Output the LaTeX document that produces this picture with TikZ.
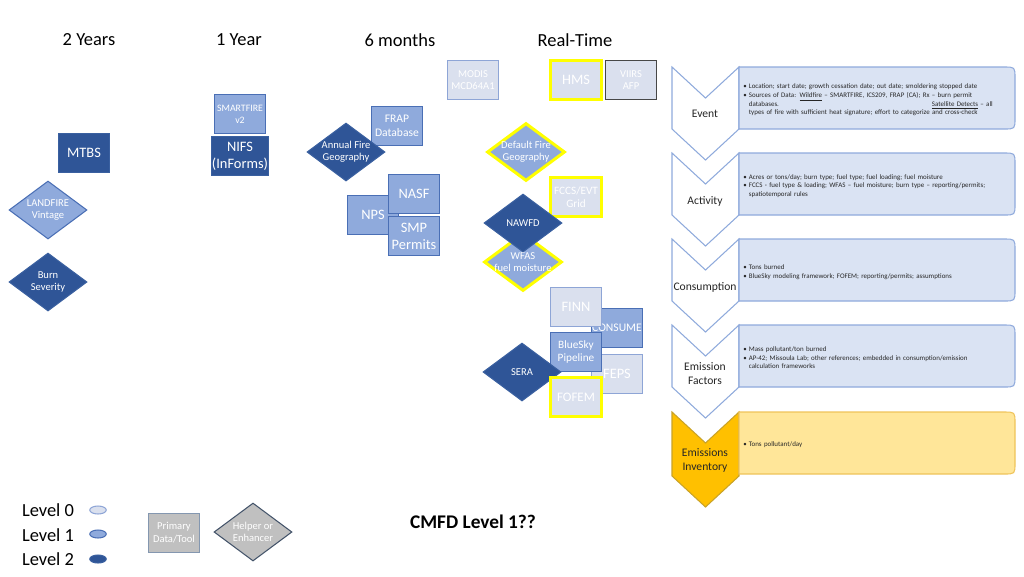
\documentclass[tikz,border=0pt]{standalone}
\usepackage{fontspec}
\setmainfont{Carlito}
\usepackage{xcolor}
\usepackage{tikz}
\usetikzlibrary{positioning, shapes.geometric}

\definecolor{lvzero}{HTML}{DAE0EE}
\definecolor{lvzeroline}{HTML}{8EA5D6}
\definecolor{lvone}{HTML}{8FAADC}
\definecolor{lvoneline}{HTML}{4A6FB5}
\definecolor{lvtwo}{HTML}{2F5597}
\definecolor{lvtwoline}{HTML}{3A60A0}
\definecolor{hilite}{HTML}{FFFF00}
\definecolor{descfill}{HTML}{DAE3F3}
\definecolor{descline}{HTML}{8FAADC}
\definecolor{invfill}{HTML}{FFE699}
\definecolor{invline}{HTML}{EFC35A}
\definecolor{chevgold}{HTML}{FFC000}
\definecolor{chevgoldline}{HTML}{C9A227}
\definecolor{greyfill}{HTML}{C0C0C0}
\definecolor{greyline}{HTML}{8497B0}
\definecolor{greydia}{HTML}{44546A}
\definecolor{darktext}{HTML}{262626}

\newcommand{\bul}[1]{\par\noindent\makebox[0.8em][l]{\textbullet}%
  \parbox[t]{\dimexpr\hsize-0.8em\relax}{#1}}

\begin{document}
\begin{tikzpicture}[
    x=0.02cm, y=-0.02cm,
    box/.style={draw, line width=0.6pt, minimum width=1.02cm, minimum height=0.78cm,
      inner sep=0.5pt, align=center, text=white, font=\fontsize{6}{7.2}\selectfont},
    big/.style={font=\fontsize{8.2}{9.8}\selectfont},
    dia/.style={diamond, draw, line width=0.6pt, minimum width=1.56cm, minimum height=1.16cm, inner sep=0pt},
    dlab/.style={label={[text=white, align=center, font=\fontsize{6}{7}\selectfont]center:{#1}}},
    lzero/.style={fill=lvzero, draw=lvzeroline},
    lone/.style={fill=lvone, draw=lvoneline},
    ltwo/.style={fill=lvtwo, draw=lvtwoline},
    hl/.style={draw=hilite, line width=1.7pt},
    hdr/.style={font=\fontsize{10.5}{12.6}\selectfont, text=black},
    chev/.style={draw=descline, fill=white, line width=0.6pt},
    chevtxt/.style={align=center, text=darktext, font=\fontsize{6.6}{8}\selectfont},
    descbox/.style={draw=descline, fill=descfill, line width=0.6pt},
    desc/.style={anchor=west, text width=5.1cm, inner sep=0pt, text=darktext,
      font=\fontsize{3.95}{4.9}\selectfont},
    legdot/.style={ellipse, draw, line width=0.6pt, minimum width=0.33cm, minimum height=0.16cm, inner sep=0pt}
  ]
  \useasboundingbox (0,0) rectangle (1024,576);

  % time columns
  \node[hdr] (yrtwo) at (89,40) {2 Years};
  \node[hdr] (yrone) at (239,40) {1 Year};
  \node[hdr] (mosix) at (400,40) {6 months};
  \node[hdr] (rtime) at (575,40) {Real-Time};

  % 2 years
  \node[box, ltwo, big] (mtbs) at (84,153) {MTBS};
  \node[dia, lone, dlab={LANDFIRE\\Vintage}] (landfire) at (48,210) {};
  \node[dia, ltwo, dlab={Burn\\Severity}] (burnsev) at (48,282) {};

  % 1 year
  \node[box, lone, font=\fontsize{5.6}{7}\selectfont] (smartfire) at (240,114) {SMARTFIRE\\v2};
  \node[box, ltwo, big] (nifs) at (240,156) {NIFS\\(InForms)};

  % 6 months
  \node[box, lone, font=\fontsize{6.6}{8}\selectfont] (frap) at (397,126) {FRAP\\Database};
  \node[dia, ltwo, dlab={Annual Fire\\Geography}] (annualfg) at (346,152) {};
  \node[box, lone, big] (nps) at (373,215) {NPS};
  \node[box, lone, big] (nasf) at (414,194) {NASF};
  \node[box, lone, big] (smp) at (414,236) {SMP\\Permits};

  % real-time
  \node[box, lzero] (modis) at (473,80) {MODIS\\MCD64A1};
  \node[box, lzero, hl, big] (hms) at (576,80) {HMS};
  \node[box, lzero, draw=darktext!85, line width=1.1pt] (viirs) at (631,80) {VIIRS\\AFP};
  \node[dia, lone, hl, dlab={Default Fire\\Geography}] (defaultfg) at (526,152) {};
  \node[box, lzero, hl, font=\fontsize{6.4}{7.8}\selectfont] (fccs) at (576,197) {FCCS/EVT\\Grid};
  \node[dia, lone, hl, dlab={WFAS\\fuel moisture}] (wfas) at (523,262) {};
  \node[dia, ltwo, dlab={NAWFD}] (nawfd) at (523,223) {};
  \node[box, lone, font=\fontsize{6.6}{8}\selectfont] (consume) at (617,328) {CONSUME};
  \node[box, lzero, big] (finn) at (576,307) {FINN};
  \node[box, lzero, big] (feps) at (617,374) {FEPS};
  \node[box, lone, font=\fontsize{6.4}{7.8}\selectfont] (bluesky) at (576,352) {BlueSky\\Pipeline};
  \node[dia, ltwo, dlab={SERA}] (sera) at (522,372) {};
  \node[box, lzero, hl, font=\fontsize{7.4}{9}\selectfont] (fofem) at (576,397) {FOFEM};

  % process chevrons
  \draw[chev] (672,67) -- ++(33.5,31) -- ++(33.5,-31) -- ++(0,62) -- ++(-33.5,31) -- ++(-33.5,-31) -- cycle;
  \draw[chev] (672,153) -- ++(33.5,31) -- ++(33.5,-31) -- ++(0,62) -- ++(-33.5,31) -- ++(-33.5,-31) -- cycle;
  \draw[chev] (672,239) -- ++(33.5,31) -- ++(33.5,-31) -- ++(0,62) -- ++(-33.5,31) -- ++(-33.5,-31) -- cycle;
  \draw[chev] (672,325) -- ++(33.5,31) -- ++(33.5,-31) -- ++(0,62) -- ++(-33.5,31) -- ++(-33.5,-31) -- cycle;
  \draw[chev, fill=chevgold, draw=chevgoldline] (672,412) -- ++(33.5,31) -- ++(33.5,-31) -- ++(0,64) -- ++(-33.5,31) -- ++(-33.5,-31) -- cycle;

  \node[chevtxt] (event) at (705,114) {Event};
  \node[chevtxt] (activity) at (705,201) {Activity};
  \node[chevtxt] (consumption) at (705,287) {Consumption};
  \node[chevtxt] (emfactors) at (705,374) {Emission\\Factors};
  \node[chevtxt] (eminv) at (705,460) {Emissions\\Inventory};

  % descriptions
  \draw[descbox] (739,67) -- (1004,67) .. controls (1015,67) .. (1015,78) -- (1015,118) .. controls (1015,129) .. (1004,129) -- (739,129) -- cycle;
  \draw[descbox] (739,153) -- (1004,153) .. controls (1015,153) .. (1015,164) -- (1015,204) .. controls (1015,215) .. (1004,215) -- (739,215) -- cycle;
  \draw[descbox] (739,239) -- (1004,239) .. controls (1015,239) .. (1015,250) -- (1015,290) .. controls (1015,301) .. (1004,301) -- (739,301) -- cycle;
  \draw[descbox] (739,325) -- (1004,325) .. controls (1015,325) .. (1015,336) -- (1015,376) .. controls (1015,387) .. (1004,387) -- (739,387) -- cycle;
  \draw[descbox, fill=invfill, draw=invline] (739,412) -- (1004,412) .. controls (1015,412) .. (1015,423) -- (1015,463) .. controls (1015,474) .. (1004,474) -- (739,474) -- cycle;

  \node[desc] (eventtxt) at (743,98) {%
    \bul{Location; start date; growth cessation date; out date; smoldering stopped date}
    \bul{Sources of Data: \underline{Wildfire} – SMARTFIRE, ICS209, FRAP (CA); Rx – burn permit\newline
      databases.\hfill\underline{Satellite Detects} – all\hspace*{0.8em}\newline
      types of fire with sufficient heat signature; effort to categorize and cross-check}};
  \node[desc] (activitytxt) at (743,184) {%
    \bul{Acres or tons/day; burn type; fuel type; fuel loading; fuel moisture}
    \bul{FCCS - fuel type \& loading; WFAS – fuel moisture; burn type – reporting/permits;\newline
      spatiotemporal rules}};
  \node[desc] (consumptxt) at (743,270) {%
    \bul{Tons burned}
    \bul{BlueSky modeling framework; FOFEM; reporting/permits; assumptions}};
  \node[desc] (factortxt) at (743,356) {%
    \bul{Mass pollutant/ton burned}
    \bul{AP-42; Missoula Lab; other references; embedded in consumption/emission\newline
      calculation frameworks}};
  \node[desc] (invtxt) at (743,443) {%
    \bul{Tons pollutant/day}};

  % legend
  \node[hdr] (levzero) at (48,510) {Level 0};
  \node[hdr] (levone) at (48,535) {Level 1};
  \node[hdr] (levtwo) at (48,559) {Level 2};
  \node[legdot, lzero] (dotzero) at (98,510) {};
  \node[legdot, lone] (dotone) at (98,534) {};
  \node[legdot, ltwo] (dottwo) at (98,559) {};
  \node[box, fill=greyfill, draw=greyline, font=\fontsize{6}{7.4}\selectfont] (primary) at (174,533) {Primary\\Data/Tool};
  \node[dia, fill=greyfill, draw=greydia, dlab={Helper or\\Enhancer}] (helper) at (253,532) {};

  \node[font=\bfseries\fontsize{11}{13}\selectfont] (title) at (473,522) {CMFD Level 1??};
\end{tikzpicture}
\end{document}
